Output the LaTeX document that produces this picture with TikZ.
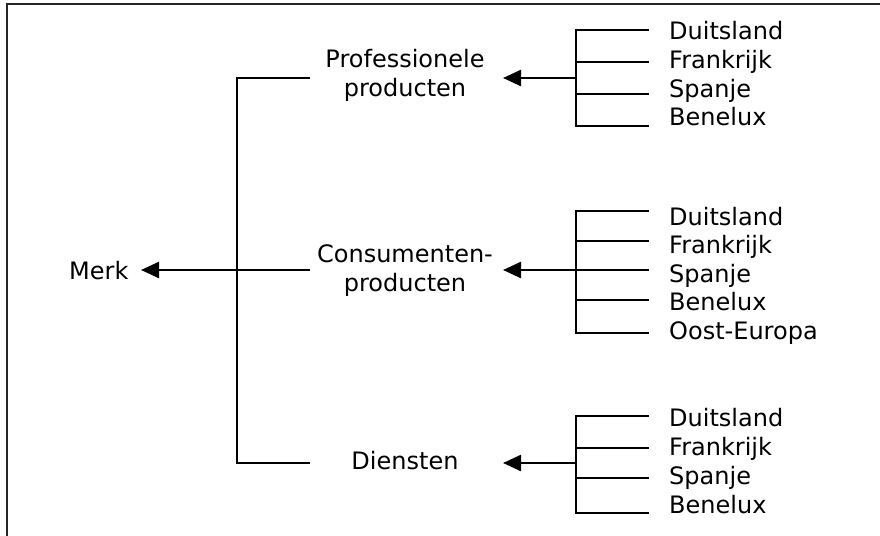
\documentclass[tikz,border=0pt]{standalone}
\usepackage{fontspec}
\setmainfont{DejaVu Sans}
\usetikzlibrary{arrows.meta}
\begin{document}
\begin{tikzpicture}[x=0.5pt,y=-0.5pt,line width=1.2pt,
  lbl/.style={inner sep=0pt,font=\fontsize{12}{14.5}\selectfont},
  country/.style={lbl,anchor=base west},
  link/.style={line width=1.2pt},
  feed/.style={line width=1.2pt,-{Triangle[length=9pt,width=8pt]}}]
\useasboundingbox (0,0) rectangle (880,536);
% outer frame (top and left edge)
\draw[line width=1.2pt,black!85] (880,4) -- (7,4) -- (7,536);

% labels of the tree (multi-line labels are placed by their last baseline)
\node[lbl,anchor=base west] (merk) at (68,279) {Merk};
\node[lbl,align=center,anchor=base] (prof) at (405,96) {Professionele\\producten};
\node[lbl,align=center,anchor=base] (cons) at (405,291) {Consumenten-\\producten};
\node[lbl,anchor=base] (dien) at (405,469) {Diensten};

% trunk joining the three product groups to the brand
\coordinate (t-top) at (310,78);
\coordinate (t-mid) at (310,270);
\coordinate (t-bot) at (310,463);
\coordinate (merk-in) at (141,270);
\draw[link] (t-top) -- (237,78) -- (237,463) -- (t-bot);
\draw[feed] (t-mid) -- (merk-in);

% group 1: Professionele producten
\coordinate (p-bar) at (576,78);
\coordinate (p-in) at (503,78);
\draw[link] (649,30) -- (576,30) -- (576,126) -- (649,126);
\draw[link] (576,62) -- (649,62);
\draw[link] (576,94) -- (649,94);
\draw[feed] (p-bar) -- (p-in);
\node[country] (p1) at (668,39) {Duitsland};
\node[country] (p2) at (668,68) {Frankrijk};
\node[country] (p3) at (668,97) {Spanje};
\node[country] (p4) at (668,125) {Benelux};

% group 2: Consumentenproducten
\coordinate (c-bar) at (576,270);
\coordinate (c-in) at (503,270);
\draw[link] (649,211) -- (576,211) -- (576,333) -- (649,333);
\draw[link] (576,241) -- (649,241);
\draw[link] (576,270) -- (649,270);
\draw[link] (576,300) -- (649,300);
\draw[feed] (c-bar) -- (c-in);
\node[country] (c1) at (668,225) {Duitsland};
\node[country] (c2) at (668,253) {Frankrijk};
\node[country] (c3) at (668,282) {Spanje};
\node[country] (c4) at (668,310) {Benelux};
\node[country] (c5) at (668,339) {Oost-Europa};

% group 3: Diensten
\coordinate (d-bar) at (576,463);
\coordinate (d-in) at (503,463);
\draw[link] (649,416) -- (576,416) -- (576,513) -- (649,513);
\draw[link] (576,448) -- (649,448);
\draw[link] (576,478) -- (649,478);
\draw[feed] (d-bar) -- (d-in);
\node[country] (d1) at (668,426) {Duitsland};
\node[country] (d2) at (668,455) {Frankrijk};
\node[country] (d3) at (668,484) {Spanje};
\node[country] (d4) at (668,513) {Benelux};
\end{tikzpicture}
\end{document}
